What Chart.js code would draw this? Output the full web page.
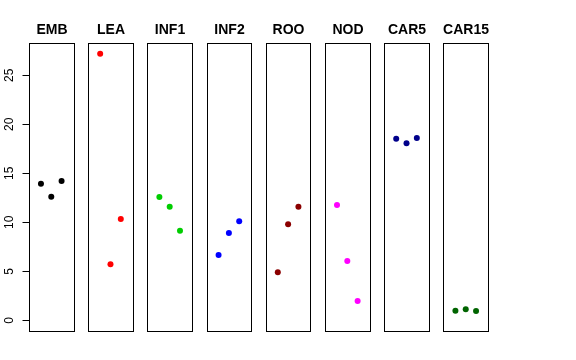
<!DOCTYPE html>
<html>
<head>
<meta charset="utf-8">
<script src="https://cdn.jsdelivr.net/npm/chart.js@4"></script>
<style>
  html, body { margin: 0; padding: 0; background: #fff; }
  #wrap { width: 576px; height: 360px; }
</style>
</head>
<body>
<div id="wrap"><canvas id="chart" width="576" height="360"></canvas></div>
<script>
// panel names and the three replicate values in each one
const groups = ['EMB', 'LEA', 'INF1', 'INF2', 'ROO', 'NOD', 'CAR5', 'CAR15'];
const colors = ['#000000', '#FF0000', '#00CD00', '#0000FF', '#8B0000', '#FF00FF', '#00008B', '#006400'];
const emb = [13.94, 12.61, 14.21];
const lea = [27.2, 5.71, 10.34];
const inf1 = [12.58, 11.6, 9.14];
const inf2 = [6.66, 8.91, 10.1];
const roo = [4.9, 9.8, 11.6];
const nod = [11.77, 6.05, 1.97];
const car5 = [18.53, 18.06, 18.6];
const car15 = [0.98, 1.12, 0.95];
const values = [emb, lea, inf1, inf2, roo, nod, car5, car15];
const yTicks = [0, 5, 10, 15, 20, 25];

// each panel spans x 0..4 (plus R's 4% padding), panels sit side by side
const PAD = 0.16;
const STEP = 5.742;
const Y_MIN = -1.09, Y_MAX = 28.3;

const datasets = groups.map((g, i) => ({
    label: g,
    data: values[i].map((v, k) => ({ x: i * STEP + k + 1, y: v })),
    backgroundColor: colors[i],
    borderColor: colors[i],
    pointRadius: 3,
    pointHoverRadius: 3,
    borderWidth: 0
}));

const panelPlugin = {
    id: 'panels',
    afterDraw(chart) {
        const ctx = chart.ctx;
        const xs = chart.scales.x, ys = chart.scales.y;
        const top = Math.round(ys.getPixelForValue(Y_MAX)) + 0.5;
        const bottom = Math.round(ys.getPixelForValue(Y_MIN)) + 0.5;
        ctx.save();
        ctx.strokeStyle = '#000';
        ctx.lineWidth = 1;
        ctx.fillStyle = '#000';
        ctx.font = 'bold 14px "Liberation Sans", Arial, sans-serif';
        ctx.textAlign = 'center';
        ctx.textBaseline = 'alphabetic';
        groups.forEach((g, i) => {
            const l = Math.round(xs.getPixelForValue(i * STEP - PAD)) + 0.5;
            const r = Math.round(xs.getPixelForValue(i * STEP + 4 + PAD)) + 0.5;
            ctx.strokeRect(l, top, r - l, bottom - top);
            ctx.fillText(g, (l + r) / 2, 34);
        });

        // y axis of the first panel: ticks and rotated labels
        const x0 = Math.round(xs.getPixelForValue(-PAD)) + 0.5;
        ctx.font = '12px "Liberation Sans", Arial, sans-serif';
        ctx.beginPath();
        const yA = Math.round(ys.getPixelForValue(yTicks[0])) + 0.5;
        const yB = Math.round(ys.getPixelForValue(yTicks[yTicks.length - 1])) + 0.5;
        ctx.moveTo(x0, yA);
        ctx.lineTo(x0, yB);
        yTicks.forEach(t => {
            const y = Math.round(ys.getPixelForValue(t)) + 0.5;
            ctx.moveTo(x0 - 7, y);
            ctx.lineTo(x0, y);
        });
        ctx.stroke();
        yTicks.forEach(t => {
            const y = ys.getPixelForValue(t);
            ctx.save();
            ctx.translate(13, y);
            ctx.rotate(-Math.PI / 2);
            ctx.fillText(String(t), 0, 0);
            ctx.restore();
        });
        ctx.restore();
    }
};

new Chart(document.getElementById('chart'), {
    type: 'scatter',
    data: { datasets },
    options: {
        responsive: false,
        animation: false,
        layout: { padding: { left: 29, right: 88, top: 43, bottom: 29 } },
        plugins: {
            legend: { display: false },
            title: { display: false },
            tooltip: { enabled: false }
        },
        scales: {
            x: { type: 'linear', display: false, min: -PAD, max: 7 * STEP + 4 + PAD },
            y: { type: 'linear', display: false, min: Y_MIN, max: Y_MAX }
        }
    },
    plugins: [panelPlugin]
});
</script>
</body>
</html>
